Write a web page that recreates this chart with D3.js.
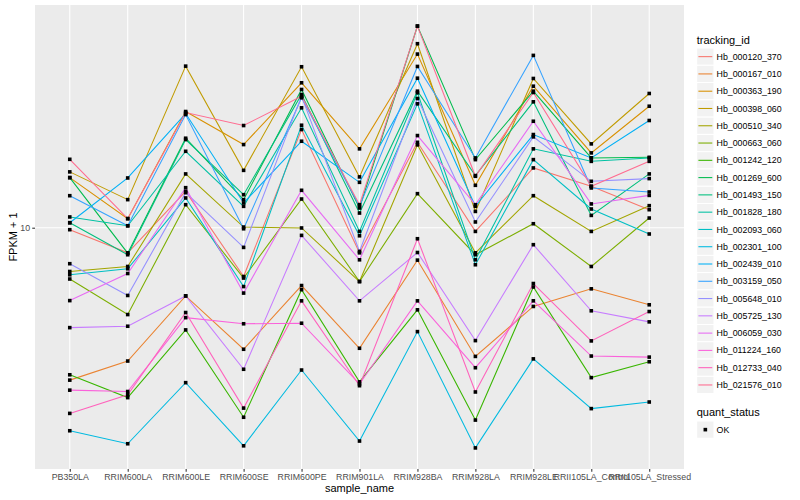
<!DOCTYPE html>
<html lang="en">

<head>
  <meta charset="utf-8">
  <title>FPKM + 1 by sample_name</title>
  <script src="https://cdnjs.cloudflare.com/ajax/libs/d3/7.8.5/d3.min.js"></script>
  <style>
    body { margin: 0; background: white; }
    svg { display: block; font-family: 'Liberation Sans', Arial, sans-serif; }
  </style>
</head>

<body>

  <div id="chart"></div>

  <script>
    // data (FPKM + 1)

    const samples = ['PB350LA', 'RRIM600LA', 'RRIM600LE', 'RRIM600SE', 'RRIM600PE', 'RRIM901LA',
      'RRIM928BA', 'RRIM928LA', 'RRIM928LE', 'RRII105LA_Control', 'RRII105LA_Stressed'];

    const trackingIds = ['Hb_000120_370', 'Hb_000167_010', 'Hb_000363_190', 'Hb_000398_060',
      'Hb_000510_340', 'Hb_000663_060', 'Hb_001242_120', 'Hb_001269_600', 'Hb_001493_150',
      'Hb_001828_180', 'Hb_002093_060', 'Hb_002301_100', 'Hb_002439_010', 'Hb_003159_050',
      'Hb_005648_010', 'Hb_005725_130', 'Hb_006059_030', 'Hb_011224_160', 'Hb_012733_040',
      'Hb_021576_010'];

    const hb000120370 = [9.85, 8.25, 13.21, 6.88, 21.22, 8.25, 19.24, 9.72, 15.81, 13.73, 11.48];
    const hb000167010 = [3.11, 3.60, 5.93, 3.94, 6.42, 3.97, 7.80, 3.73, 5.47, 6.26, 5.54];
    const hb000363190 = [14.68, 10.72, 24.36, 18.91, 30.36, 18.30, 37.83, 13.84, 29.58, 17.74, 25.37];
    const hb000398060 = [15.34, 12.40, 34.49, 15.52, 34.33, 14.76, 40.96, 11.33, 31.38, 19.01, 27.97];
    const hb000510340 = [7.15, 7.43, 15.10, 10.05, 9.98, 6.62, 18.87, 8.25, 12.78, 9.72, 11.84];
    const hb000663060 = [6.75, 5.14, 11.93, 6.80, 12.46, 6.62, 12.98, 8.13, 10.31, 7.43, 10.77];
    const hb001242120 = [3.24, 2.72, 4.57, 2.34, 6.22, 3.07, 5.33, 2.29, 6.35, 3.17, 3.58];
    const hb001269600 = [14.68, 8.23, 19.85, 12.40, 28.84, 11.63, 46.88, 16.85, 28.47, 17.07, 17.15];
    const hb001493150 = [10.39, 8.13, 19.65, 12.88, 27.76, 11.19, 28.47, 14.91, 26.24, 10.99, 15.10];
    const hb001828180 = [10.86, 10.15, 17.96, 11.78, 25.06, 9.72, 28.12, 7.82, 18.30, 16.63, 17.05];
    const hb002093060 = [6.97, 7.30, 12.56, 6.37, 21.93, 9.40, 25.84, 7.53, 16.85, 11.54, 9.53];
    const hb002301100 = [2.11, 1.91, 3.05, 1.88, 3.36, 1.95, 4.51, 1.85, 3.66, 2.50, 2.63];
    const hb002439010 = [10.39, 14.64, 23.99, 12.09, 19.40, 14.16, 31.45, 11.78, 20.42, 17.07, 22.74];
    const hb003159050 = [12.78, 10.15, 23.80, 9.92, 27.06, 11.78, 34.41, 17.07, 37.45, 13.56, 13.15];
    const hb005648010 = [7.59, 5.95, 13.08, 8.60, 27.40, 8.34, 26.92, 10.45, 20.06, 14.27, 14.57];
    const hb005725130 = [4.65, 4.70, 5.93, 3.38, 9.43, 5.71, 8.27, 4.21, 8.78, 5.29, 4.86];
    const hb006059030 = [5.72, 7.04, 13.59, 6.06, 13.32, 7.82, 20.26, 11.93, 22.61, 12.00, 12.81];
    const hb011224160 = [2.88, 2.85, 5.02, 4.79, 4.81, 3.02, 5.71, 3.42, 5.71, 3.74, 3.71];
    const hb012733040 = [2.41, 2.78, 5.22, 2.51, 5.71, 2.98, 9.19, 2.84, 6.52, 4.20, 5.26];
    const hb021576010 = [16.89, 10.72, 24.17, 21.88, 27.40, 11.93, 46.88, 14.83, 28.18, 13.73, 16.63];

    const seriesValues = [hb000120370, hb000167010, hb000363190, hb000398060, hb000510340,
      hb000663060, hb001242120, hb001269600, hb001493150, hb001828180, hb002093060,
      hb002301100, hb002439010, hb003159050, hb005648010, hb005725130, hb006059030,
      hb011224160, hb012733040, hb021576010];

    const yTicks = [10];
    const quantStatus = ['OK'];

    // ggplot default hue palette for 20 groups
    const palette = ['#F8766D', '#EA8331', '#D89000', '#C09B00', '#A3A500', '#7CAE00', '#39B600',
      '#00BB4E', '#00BF7D', '#00C1A3', '#00BFC4', '#00BAE0', '#00B0F6', '#35A2FF', '#9590FF',
      '#C77CFF', '#E76BF3', '#FA62DB', '#FF62BC', '#FF6C91'];

    createChart('#chart', 800, 500);

    function createChart(elementId, width, height) {

      const panel = { left: 35, right: 684, top: 5, bottom: 469 };

      const series = trackingIds.map((id, i) => ({
        id: id,
        values: samples.map((s, j) => ({ sample: s, value: seriesValues[i][j] }))
      }));

      // define drawing area

      const svg = d3.select(elementId)
        .append('svg')
        .attr('width', width)
        .attr('height', height)
        .style('background-color', 'white');

      svg.append('rect')
        .attr('x', panel.left)
        .attr('y', panel.top)
        .attr('width', panel.right - panel.left)
        .attr('height', panel.bottom - panel.top)
        .attr('fill', '#EBEBEB');

      // scales (ggplot expands log range by 5%, discrete by 0.6)

      const xScale = d3.scalePoint()
        .domain(samples)
        .range([panel.left, panel.right])
        .padding(0.6);

      const allValues = seriesValues.flat();
      const logMin = Math.log10(d3.min(allValues));
      const logMax = Math.log10(d3.max(allValues));
      const pad = (logMax - logMin) * 0.05;

      const yScale = d3.scaleLog()
        .domain([Math.pow(10, logMin - pad), Math.pow(10, logMax + pad)])
        .range([panel.bottom, panel.top]);

      const color = d3.scaleOrdinal()
        .domain(trackingIds)
        .range(palette);

      // grid lines

      const grid = svg.append('g');

      grid.selectAll('line.gy')
        .data(yTicks)
        .enter()
        .append('line')
        .attr('x1', panel.left)
        .attr('x2', panel.right)
        .attr('y1', d => yScale(d))
        .attr('y2', d => yScale(d))
        .attr('stroke', 'white')
        .attr('stroke-width', 1.07);

      grid.selectAll('line.gx')
        .data(samples)
        .enter()
        .append('line')
        .attr('x1', d => xScale(d))
        .attr('x2', d => xScale(d))
        .attr('y1', panel.top)
        .attr('y2', panel.bottom)
        .attr('stroke', 'white')
        .attr('stroke-width', 1.07);

      // axes

      const xAxis = d3.axisBottom(xScale)
        .tickSize(2.75)
        .tickPadding(2.4);

      const yAxis = d3.axisLeft(yScale)
        .tickValues(yTicks)
        .tickFormat(d3.format('d'))
        .tickSize(2.75)
        .tickPadding(2.2);

      const gx = svg.append('g')
        .attr('transform', `translate(0, ${panel.bottom})`)
        .call(xAxis);

      const gy = svg.append('g')
        .attr('transform', `translate(${panel.left}, 0)`)
        .call(yAxis);

      [gx, gy].forEach(g => {
        g.select('.domain').remove();
        g.selectAll('.tick line').attr('stroke', '#333333').attr('stroke-width', 1.07);
        g.selectAll('.tick text')
          .attr('fill', '#4D4D4D')
          .style('font-size', '8.8px')
          .style('font-family', "'Liberation Sans', Arial, sans-serif");
      });

      // lines

      const line = d3.line()
        .x(d => xScale(d.sample))
        .y(d => yScale(d.value));

      svg.append('g')
        .selectAll('path')
        .data(series)
        .enter()
        .append('path')
        .attr('d', d => line(d.values))
        .attr('fill', 'none')
        .attr('stroke', d => color(d.id))
        .attr('stroke-width', 1.07);

      // points

      const pts = series.flatMap(d => d.values);
      const ps = 3.6;

      svg.append('g')
        .selectAll('rect')
        .data(pts)
        .enter()
        .append('rect')
        .attr('x', d => xScale(d.sample) - ps / 2)
        .attr('y', d => yScale(d.value) - ps / 2)
        .attr('width', ps)
        .attr('height', ps)
        .attr('fill', 'black');

      // axis titles

      svg.append('text')
        .attr('x', (panel.left + panel.right) / 2)
        .attr('y', 492)
        .attr('text-anchor', 'middle')
        .style('font-size', '11px')
        .text('sample_name');

      svg.append('text')
        .attr('transform', `translate(17, ${(panel.top + panel.bottom) / 2}) rotate(-90)`)
        .attr('text-anchor', 'middle')
        .style('font-size', '11px')
        .text('FPKM + 1');

      // legend: tracking_id

      const keyX = 696.7;
      const keySize = 17.28;

      svg.append('text')
        .attr('x', keyX)
        .attr('y', 44)
        .style('font-size', '11px')
        .text('tracking_id');

      const keys = svg.append('g')
        .selectAll('g')
        .data(trackingIds)
        .enter()
        .append('g')
        .attr('transform', (d, i) => `translate(${keyX}, ${48 + i * keySize})`);

      keys.append('rect')
        .attr('width', keySize)
        .attr('height', keySize)
        .attr('fill', '#F2F2F2')
        .attr('stroke', 'white');

      keys.append('line')
        .attr('x1', 1.7)
        .attr('x2', keySize - 1.7)
        .attr('y1', keySize / 2)
        .attr('y2', keySize / 2)
        .attr('stroke', d => color(d))
        .attr('stroke-width', 1.07);

      keys.append('text')
        .attr('x', keySize + 2.6)
        .attr('y', keySize / 2 + 3.1)
        .style('font-size', '8.8px')
        .text(d => d);

      // legend: quant_status

      svg.append('text')
        .attr('x', keyX)
        .attr('y', 415.5)
        .style('font-size', '11px')
        .text('quant_status');

      const qKeys = svg.append('g')
        .selectAll('g')
        .data(quantStatus)
        .enter()
        .append('g')
        .attr('transform', (d, i) => `translate(${keyX}, ${421 + i * keySize})`);

      qKeys.append('rect')
        .attr('width', keySize)
        .attr('height', keySize)
        .attr('fill', '#F2F2F2')
        .attr('stroke', 'white');

      qKeys.append('rect')
        .attr('x', keySize / 2 - ps / 2)
        .attr('y', keySize / 2 - ps / 2)
        .attr('width', ps)
        .attr('height', ps)
        .attr('fill', 'black');

      qKeys.append('text')
        .attr('x', keySize + 2.6)
        .attr('y', keySize / 2 + 3.1)
        .style('font-size', '8.8px')
        .text(d => d);
    }
  </script>

</body>

</html>
